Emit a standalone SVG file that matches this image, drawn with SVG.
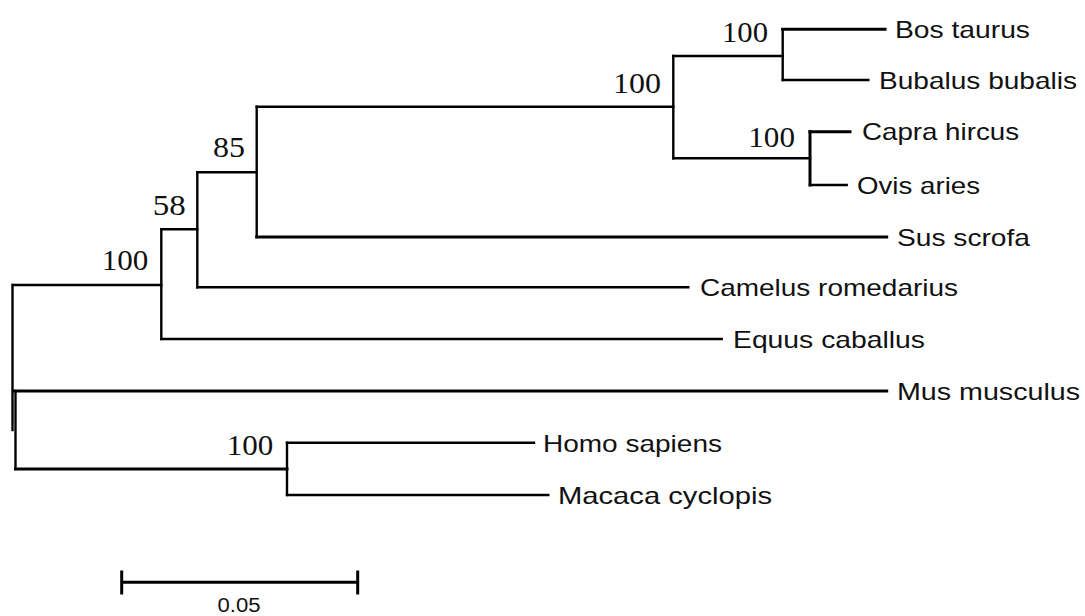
<svg xmlns="http://www.w3.org/2000/svg" width="1085" height="616" viewBox="0 0 1085 616">
<style>
.br{stroke:#000;stroke-width:2.4;fill:none;stroke-linecap:square}
.th{stroke-width:3}
.tx{font-family:"Liberation Sans",Arial,sans-serif;font-size:24px;fill:#111}
.bs{font-family:"Liberation Serif","Times New Roman",serif;font-size:30px;fill:#111}
.sc{font-family:"Liberation Sans",Arial,sans-serif;font-size:20px;fill:#111;text-anchor:middle}
</style>
<rect width="1085" height="616" fill="#fff"/>
<g id="connectors">
<path class="br" d="M12.5,285 V430"/>
<path class="br" d="M15.5,391 V469"/>
<path class="br" d="M13,285 H161.3"/>
<path class="br" d="M161.3,229.3 V339"/>
<path class="br" d="M161.3,229.3 H197.3"/>
<path class="br" d="M197.3,172.3 V287.3"/>
<path class="br" d="M197.3,172.3 H256.7"/>
<path class="br" d="M256.7,106.7 V237"/>
<path class="br" d="M256.7,106.7 H673.3"/>
<path class="br" d="M673.3,56 V158.3"/>
<path class="br" d="M673.3,56 H782.7"/>
<path class="br" d="M782.7,29.3 V80"/>
<path class="br th" d="M782.7,29.3 H885"/>
<path class="br" d="M782.7,80 H868.3"/>
<path class="br" d="M673.3,158.3 H810"/>
<path class="br th" d="M810,131.7 V185"/>
<path class="br th" d="M810,131.7 H850"/>
<path class="br" d="M810,185 H846.7"/>
<path class="br th" d="M256.7,237 H886.7"/>
<path class="br" d="M197.3,287.3 H688.3"/>
<path class="br" d="M161.3,339 H721.7"/>
<path class="br th" d="M14,391 H886.7"/>
<path class="br th" d="M15.5,469 H287"/>
<path class="br" d="M287,442.7 V495"/>
<path class="br" d="M287,442.7 H534"/>
<path class="br" d="M287,495 H548.3"/>
</g>
<g id="bootstrap">
<text class="bs" x="722" y="42" textLength="46" lengthAdjust="spacingAndGlyphs">100</text>
<text class="bs" x="613" y="93" textLength="48" lengthAdjust="spacingAndGlyphs">100</text>
<text class="bs" x="748.3" y="147" textLength="46.7" lengthAdjust="spacingAndGlyphs">100</text>
<text class="bs" x="213" y="157" textLength="32" lengthAdjust="spacingAndGlyphs">85</text>
<text class="bs" x="152.7" y="215" textLength="33" lengthAdjust="spacingAndGlyphs">58</text>
<text class="bs" x="101.7" y="270" textLength="46.6" lengthAdjust="spacingAndGlyphs">100</text>
<text class="bs" x="226.7" y="455" textLength="46.6" lengthAdjust="spacingAndGlyphs">100</text>
</g>
<g id="node-bos"><text class="tx" x="895" y="37.5" textLength="135" lengthAdjust="spacingAndGlyphs">Bos taurus</text></g>
<g id="node-bubalus"><text class="tx" x="879" y="88.5" textLength="198" lengthAdjust="spacingAndGlyphs">Bubalus bubalis</text></g>
<g id="node-capra"><text class="tx" x="862" y="140" textLength="157" lengthAdjust="spacingAndGlyphs">Capra hircus</text></g>
<g id="node-ovis"><text class="tx" x="857" y="193.5" textLength="123" lengthAdjust="spacingAndGlyphs">Ovis aries</text></g>
<g id="node-sus"><text class="tx" x="897" y="245.5" textLength="133" lengthAdjust="spacingAndGlyphs">Sus scrofa</text></g>
<g id="node-camelus"><text class="tx" x="700" y="296" textLength="258" lengthAdjust="spacingAndGlyphs">Camelus romedarius</text></g>
<g id="node-equus"><text class="tx" x="733" y="347.5" textLength="192" lengthAdjust="spacingAndGlyphs">Equus caballus</text></g>
<g id="node-mus"><text class="tx" x="897" y="399.5" textLength="183" lengthAdjust="spacingAndGlyphs">Mus musculus</text></g>
<g id="node-homo"><text class="tx" x="543" y="451.5" textLength="179" lengthAdjust="spacingAndGlyphs">Homo sapiens</text></g>
<g id="node-macaca"><text class="tx" x="558" y="503.5" textLength="214" lengthAdjust="spacingAndGlyphs">Macaca cyclopis</text></g>
<g id="scale-bar">
<path class="br th" d="M121.7,582.3 H357.7 M121.7,572 V593 M357.7,572 V593"/>
<text class="sc" x="239" y="612" textLength="43" lengthAdjust="spacingAndGlyphs">0.05</text>
</g>
</svg>
